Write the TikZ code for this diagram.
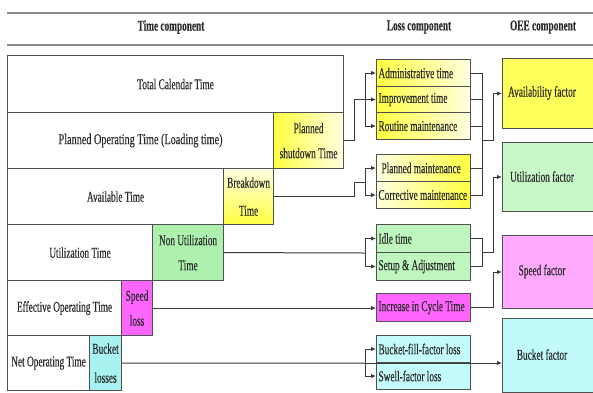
\documentclass[tikz,border=0pt]{standalone}
\usepackage{fontspec}
\setmainfont{Liberation Serif}[FakeStretch=0.62, FakeBold=0.25]
\newfontfamily\widefont{Liberation Serif}[FakeStretch=0.68, FakeBold=0.25]
\usetikzlibrary{arrows.meta}
\definecolor{bordc}{HTML}{505050}
\definecolor{linec}{HTML}{3A3A3A}
\definecolor{txtc}{HTML}{2A2A2A}
\definecolor{hdrc}{HTML}{8A8A8A}
\definecolor{yel}{HTML}{FFFF40}
\definecolor{yelpale}{HTML}{FFFFE0}
\definecolor{yelmid}{HTML}{FFFF5C}
\definecolor{grn}{HTML}{AEF0AE}
\definecolor{grnl}{HTML}{BEF6BE}
\definecolor{grnf}{HTML}{C8F8C8}
\definecolor{mag}{HTML}{FF66FF}
\definecolor{pinkf}{HTML}{FFAAFF}
\definecolor{cyn}{HTML}{A8F2F2}
\definecolor{cynl}{HTML}{C4FCFC}
\definecolor{cynf}{HTML}{C0FAFA}
\newcommand{\lt}[1]{\makebox[90pt][l]{#1}}
\begin{document}
\begin{tikzpicture}[x=1pt,y=-1pt,
  txtfont/.style={font=\fontsize{15}{25}\selectfont, text=txtc},
  tbox/.style={draw=bordc, line width=1.1pt, inner sep=0pt, anchor=north west, txtfont, align=center},
  lbox/.style={draw=bordc, line width=1pt, inner xsep=2pt, inner ysep=0pt, anchor=north west, txtfont,
    minimum width=94pt},
  obox/.style={draw=bordc, line width=1pt, inner sep=0pt, anchor=north west, minimum width=98pt},
  otxt/.style={txtfont, inner sep=0pt},
  hdrtxt/.style={font=\bfseries\fontsize{15}{16}\selectfont, text=txtc, inner sep=0pt},
  conn/.style={draw=linec, line width=1pt},
  arr/.style={conn, -{Latex[length=5pt,width=4.5pt]}}
]
\useasboundingbox (0,0) rectangle (593,392);

% header
\draw[hdrc, line width=1.8pt] (7,13) -- (593,13);
\draw[hdrc, line width=1.8pt] (7,45) -- (593,45);
\node[hdrtxt] (h1) at (171,27) {Time component};
\node[hdrtxt] (h2) at (419,27) {Loss component};
\node[hdrtxt] (h3) at (543,27) {OEE component};

% time component rows
\node[tbox, fill=white, minimum width=336pt, minimum height=57pt] (tct) at (7,55) {Total Calendar Time};
\node[tbox, fill=white, minimum width=266pt, minimum height=56pt] (pot) at (7,112) {\widefont Planned Operating Time (Loading time)};
\node[tbox, left color=yel, right color=yelpale, minimum width=70pt, minimum height=56pt] (psd) at (273,112) {Planned\\shutdown Time};
\node[tbox, fill=white, minimum width=216pt, minimum height=56pt] (avt) at (7,168) {Available Time};
\node[tbox, top color=yelpale, bottom color=yel, minimum width=50pt, minimum height=56pt] (bdt) at (223,168) {Breakdown\\[3pt]Time};
\node[tbox, fill=white, minimum width=145pt, minimum height=56pt] (ut) at (7,224) {Utilization Time};
\node[tbox, fill=grn, minimum width=71pt, minimum height=56pt] (nut) at (152,224) {Non Utilization\\Time};
\node[tbox, fill=white, minimum width=114pt, minimum height=55pt] (eot) at (7,280) {Effective Operating Time};
\node[tbox, fill=mag, minimum width=31pt, minimum height=55pt] (spl) at (121,280) {Speed\\loss};
\node[tbox, fill=white, minimum width=82pt, minimum height=55pt] (nop) at (7,335) {Net Operating Time};
\node[tbox, fill=cyn, minimum width=32pt, minimum height=55pt] (bkl) at (89,335) {Bucket\\[4pt]losses};

% loss component
\node[lbox, left color=yel, right color=yelpale, minimum height=27pt] (admin) at (376,59) {\lt{Administrative time}};
\node[lbox, left color=yel, right color=yelpale, minimum height=26pt] (improv) at (376,86) {\lt{Improvement time}};
\node[lbox, left color=yel, right color=yelpale, minimum height=27pt] (routine) at (376,112) {\lt{Routine maintenance}};
\node[lbox, left color=yelpale, right color=yel, minimum height=27pt] (pm) at (376,154) {\lt{\hspace{3pt}Planned maintenance}};
\node[lbox, left color=yelpale, right color=yel, minimum height=27pt] (cm) at (376,181) {\lt{Corrective maintenance}};
\node[lbox, fill=grnl, minimum height=28pt] (idle) at (376,224) {\lt{Idle time}};
\node[lbox, fill=grnl, minimum height=28pt] (setup) at (376,252) {\lt{Setup \& Adjustment}};
\node[lbox, fill=mag, minimum height=28pt] (inc) at (376,293) {\lt{Increase in Cycle Time}};
\node[lbox, fill=cynl, minimum height=27pt] (bf) at (376,335) {\lt{Bucket-fill-factor loss}};
\node[lbox, fill=cynl, minimum height=27pt] (sw) at (376,362) {\lt{Swell-factor loss}};

% OEE component
\node[obox, fill=yelmid, minimum height=70pt] (avail) at (502,58) {};
\node[otxt] (availt) at (542,93) {Availability factor};
\node[obox, fill=grnf, minimum height=69pt] (util) at (502,142) {};
\node[otxt] (utilt) at (542,176.5) {Utilization factor};
\node[obox, fill=pinkf, minimum height=73pt] (speed) at (502,235) {};
\node[otxt] (speedt) at (542,271.5) {Speed factor};
\node[obox, fill=cynf, minimum height=74pt] (bkf) at (502,318) {};
\node[otxt] (bkft) at (542,354.5) {Bucket factor};

% junction points
\coordinate (j1) at ([xshift=-11pt]improv.west);
\coordinate (j2) at ([xshift=-11pt]pm.south west);
\coordinate (j3) at ([xshift=-11pt]idle.south west);
\coordinate (j5) at ([xshift=-11pt]bf.south west);
\coordinate (r1) at ([xshift=11pt]admin.east);
\coordinate (r2) at ([xshift=11pt]idle.east);

% time -> loss connectors
\draw[conn] (psd.east) -- ++(10,0) |- (j1);
\draw[arr] (j1) -- (improv.west);
\draw[arr] (j1) |- (admin.west);
\draw[arr] (j1) |- (routine.west);

\draw[conn] (bdt.east) -- ++(80,0) |- (j2);
\draw[arr] (j2) |- (pm.west);
\draw[arr] (j2) |- (cm.west);

\draw[conn] (nut.east) -- (j3);
\draw[arr] (j3) |- (idle.west);
\draw[arr] (j3) |- (setup.west);

\draw[arr] (spl.east) -- (spl.east -| inc.west);

\draw[conn] (bkl.east) -- (j5);
\draw[arr] (j5) |- (bf.west);
\draw[arr] (j5) |- (sw.west);
\draw[arr] (j5) -- (j5 -| bkf.west);

% loss -> OEE connectors
\draw[conn] (admin.east) -- (r1) -- (r1 |- cm.east) -- (cm.east);
\draw[conn] (improv.east) -- (improv.east -| r1);
\draw[conn] (routine.east) -- (routine.east -| r1);
\draw[conn] (pm.east) -- (pm.east -| r1);
\draw[arr] (r1 |- psd.east) -- ++(11,0) |- (avail.west);

\draw[conn] (idle.east) -- (r2) |- (setup.east);
\draw[arr] (r2 |- nut.east) -- ++(11,0) |- (util.west);

\draw[arr] (inc.east) -- ++(22,0) |- (speed.west);
\end{tikzpicture}
\end{document}
